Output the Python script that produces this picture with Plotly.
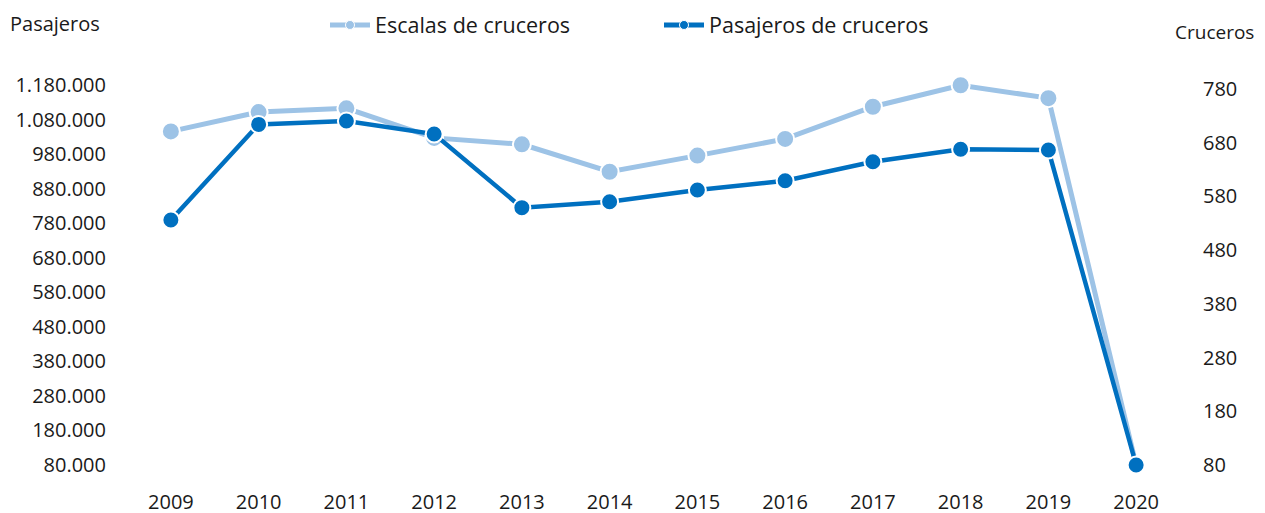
import plotly.graph_objects as go

years = ["2009", "2010", "2011", "2012", "2013", "2014", "2015", "2016", "2017", "2018", "2019", "2020"]
pasajeros = [789000, 1066000, 1076000, 1038000, 825000, 842000, 876000, 903000, 958000, 994000, 992000, 80000]
escalas = [701, 737, 744, 689, 677, 626, 656, 687, 747, 787, 763, 80]

left_ticks = [80000, 180000, 280000, 380000, 480000, 580000, 680000, 780000, 880000, 980000, 1080000, 1180000]
left_ticktext = ["80.000", "180.000", "280.000", "380.000", "480.000", "580.000", "680.000",
                 "780.000", "880.000", "980.000", "1.080.000", "1.180.000"]
right_ticks = [80, 180, 280, 380, 480, 580, 680, 780]
right_ticktext = ["80", "180", "280", "380", "480", "580", "680", "780"]

LIGHT = "#9DC3E6"
DARK = "#0070C0"
TXT = "#1a1a1a"
FONT = "Open Sans"

W, H = 1265, 513
OFF = 8  # page body margin offset
# target plot area on screen: x 127..1180, y 70..480
PL, PR, PT, PB = 127 - OFF, 1180 - OFF, 70 - OFF, 480 - OFF
ML, MR, MT, MB = PL, W - PR, PT, H - PB
pw, ph = PR - PL, PB - PT

fig = go.Figure()
fig.add_trace(go.Scatter(
    x=years, y=escalas, name="Escalas de cruceros", yaxis="y", mode="lines+markers",
    line=dict(color=LIGHT, width=5),
    marker=dict(size=18, color=LIGHT, line=dict(color="white", width=2)),
    showlegend=False, cliponaxis=False))
fig.add_trace(go.Scatter(
    x=years, y=pasajeros, name="Pasajeros de cruceros", yaxis="y2", mode="lines+markers",
    line=dict(color=DARK, width=4.5),
    marker=dict(size=17, color=DARK, line=dict(color="white", width=2)),
    showlegend=False, cliponaxis=False))
fig.add_trace(go.Scatter(
    x=[None], y=[None], name="Escalas de cruceros", yaxis="y", mode="lines+markers",
    line=dict(color=LIGHT, width=5), marker=dict(size=9, color=LIGHT, line=dict(color="white", width=1))))
fig.add_trace(go.Scatter(
    x=[None], y=[None], name="Pasajeros de cruceros", yaxis="y2", mode="lines+markers",
    line=dict(color=DARK, width=5), marker=dict(size=9, color=DARK, line=dict(color="white", width=1))))

# screen targets: 80 at y=465 on both axes, 1.180.000 at y=85, 780 at y=89
left_scale = (465 - 85) / (1180000 - 80000)
right_scale = (465 - 89) / (780 - 80)
bot_s, top_s = PB + OFF, PT + OFF
left_range = [80000 - (bot_s - 465) / left_scale, 80000 + (465 - top_s) / left_scale]
right_range = [80 - (bot_s - 465) / right_scale, 80 + (465 - top_s) / right_scale]


def px_x(sx):
    return (sx - OFF - PL) / pw


def px_y(sy):
    return (PB - (sy - OFF)) / ph


fig.update_layout(
    width=W, height=H,
    margin=dict(l=ML, r=MR, t=MT, b=MB, autoexpand=False),
    paper_bgcolor="white", plot_bgcolor="white",
    font=dict(family=FONT, size=20, color=TXT),
    xaxis=dict(type="category", range=[-0.5, 11.5], showgrid=False, showline=False,
               zeroline=False, ticks="", ticklabelstandoff=8, automargin=False,
               tickfont=dict(size=20, color=TXT)),
    yaxis=dict(side="right", range=right_range, tickvals=right_ticks, ticktext=right_ticktext,
               showgrid=False, showline=False, zeroline=False, ticks="", automargin=False,
               ticklabelstandoff=22, tickfont=dict(size=20, color=TXT)),
    yaxis2=dict(side="left", overlaying="y", range=left_range, tickvals=left_ticks,
                ticktext=left_ticktext, showgrid=False, showline=False, zeroline=False,
                ticks="", automargin=False, ticklabelstandoff=20, tickfont=dict(size=20, color=TXT)),
    legend=dict(orientation="h", xref="container", yref="container",
                x=(325 - OFF) / W, y=1 - (25 - OFF) / H,
                xanchor="left", yanchor="middle", font=dict(size=21.5, color=TXT),
                bgcolor="rgba(0,0,0,0)", itemwidth=40, entrywidth=279, entrywidthmode="pixels",
                traceorder="normal"),
    showlegend=True,
    annotations=[
        dict(text="Pasajeros", xref="paper", yref="paper", x=px_x(9), y=px_y(24), borderpad=0,
             xanchor="left", yanchor="middle", showarrow=False, font=dict(size=20, color=TXT)),
        dict(text="Cruceros", xref="paper", yref="paper", x=px_x(1174), y=px_y(32), borderpad=0,
             xanchor="left", yanchor="middle", showarrow=False, font=dict(size=19, color=TXT)),
    ],
)

fig.write_html("out.html")
